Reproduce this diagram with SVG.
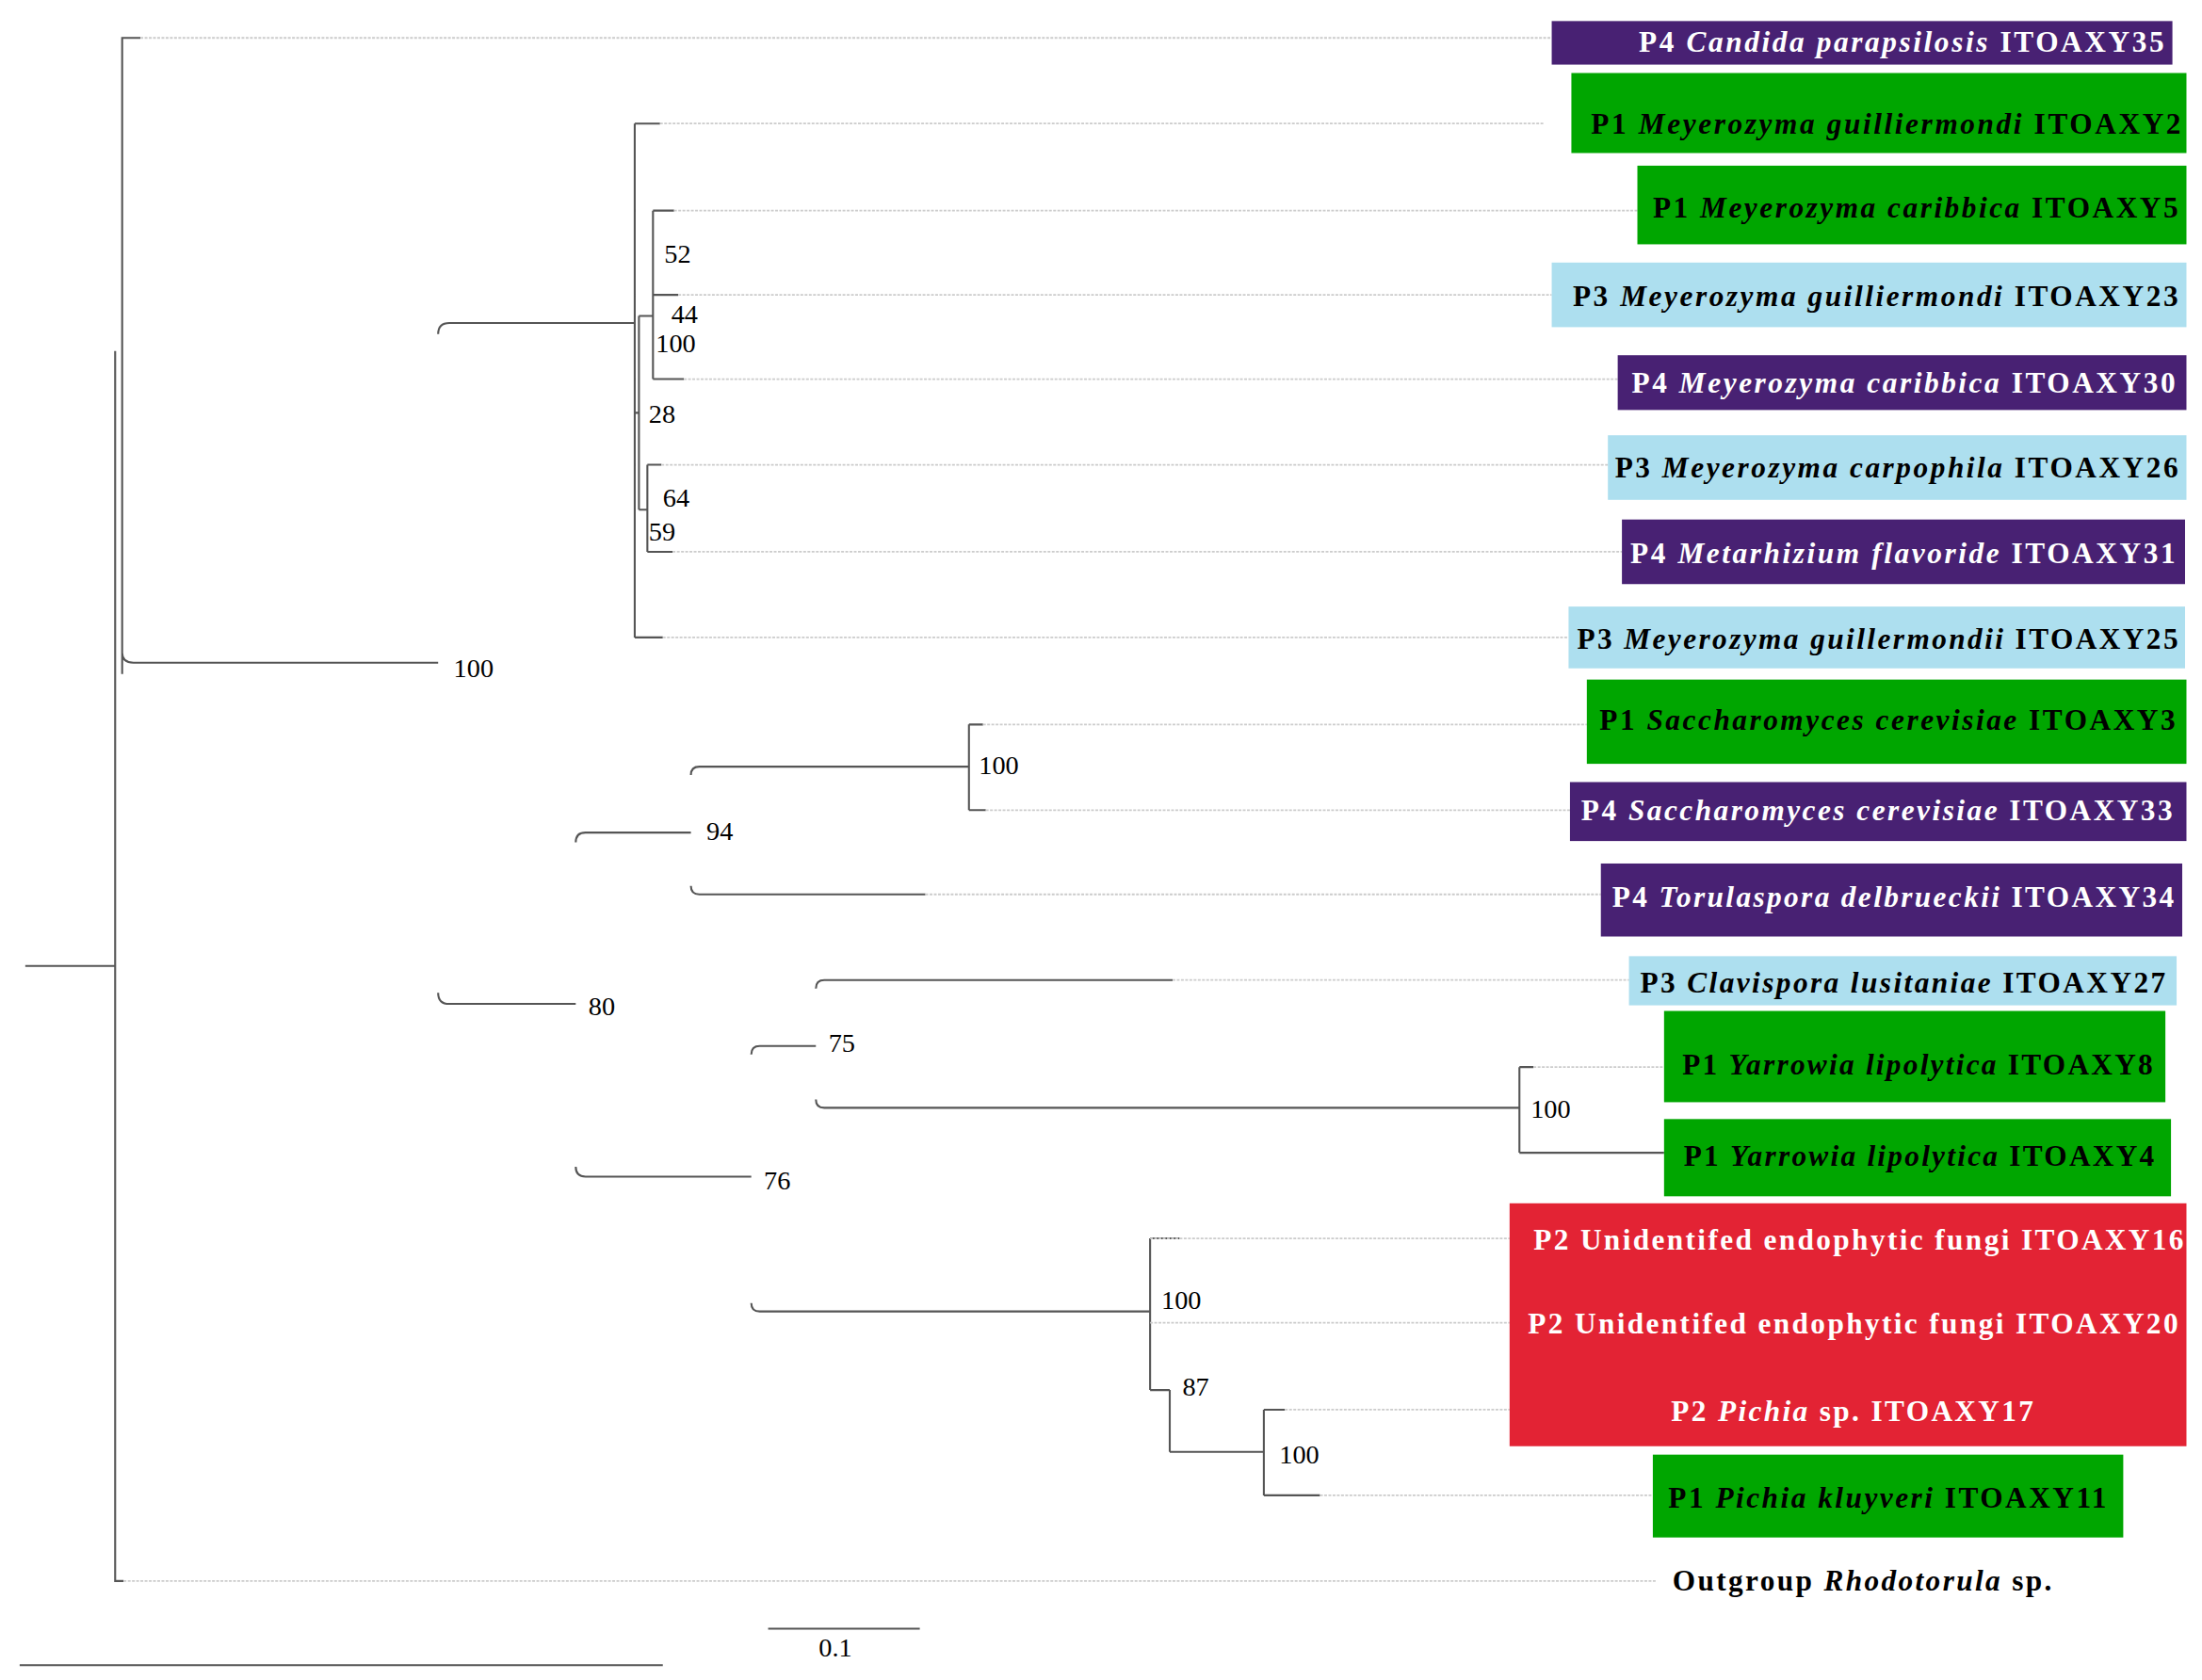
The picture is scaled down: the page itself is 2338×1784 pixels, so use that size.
<svg xmlns="http://www.w3.org/2000/svg" width="2338" height="1784" viewBox="0 0 2338 1784">
<style>
.b{fill:none;stroke:#555;stroke-width:1.4}
.d{fill:none;stroke:#ccc;stroke-width:1.2;stroke-dasharray:2 1}
.t{font-family:"Liberation Serif",serif;font-weight:bold;font-size:21px}
.w{fill:#fff}.k{fill:#000}
.n{font-family:"Liberation Serif",serif;font-size:19px;fill:#000}
.pu{fill:#482173}.gr{fill:#00A600}.lb{fill:#ADDFEF}.rd{fill:#E32334}
</style>
<rect width="2338" height="1784" fill="#fff"/>
<g transform="scale(1.491)">
<g id="connectors">
<path class="b" d="M18 688H82M82 250V1126H88M87 480V27H100M87 465Q87 472 95 472H312"/>
<path class="b" d="M312 238Q312 230 320 230H452M312 707Q312 715 320 715H410"/>
<path class="b" d="M452 88V454M452 88H470M452 454H472M452 294H455M455 225V363M455 225H465M465 150V270M465 150H480M465 210H483M465 270H487M455 363H461M461 331V393M461 331H471M461 393H479"/>
<path class="b" d="M410 600Q410 593 417 593H492M410 831Q410 838 417 838H535"/>
<path class="b" d="M492 552Q492 546 498 546H690M492 631Q492 637 498 637H659M690 516V577M690 516H700M690 577H702"/>
<path class="b" d="M535 751Q535 745 541 745H581M535 928Q535 934 541 934H819M581 704Q581 698 587 698H835M581 783Q581 789 587 789H1082M1082 760V821M1082 760H1092M1082 821H1185"/>
<path class="b" d="M819 882V990M819 882H840M819 990H833M833 990V1034M833 1034H900M900 1004V1065M900 1004H915M900 1065H940"/>
<path class="d" d="M100 27H1105M470 88H1100M480 150H1166M483 210H1105M487 270H1152M471 331H1145M479 393H1155M472 454H1117M700 516H1130M702 577H1118M659 637H1140M835 698H1160M1092 760H1185M819 882H1075M819 942H1075M915 1004H1075M940 1065H1177M88 1126H1180"/>
<path class="b" d="M547 1160H655M14 1186H472"/>
</g>
<g id="bootstrap">
<text class="n" x="473" y="187">52</text>
<text class="n" x="478" y="230">44</text>
<text class="n" x="467" y="251">100</text>
<text class="n" x="462" y="301">28</text>
<text class="n" x="472" y="361">64</text>
<text class="n" x="462" y="385">59</text>
<text class="n" x="323" y="482">100</text>
<text class="n" x="697" y="551">100</text>
<text class="n" x="503" y="598">94</text>
<text class="n" x="419" y="723">80</text>
<text class="n" x="590" y="749">75</text>
<text class="n" x="1090" y="796">100</text>
<text class="n" x="544" y="847">76</text>
<text class="n" x="827" y="932">100</text>
<text class="n" x="842" y="994">87</text>
<text class="n" x="911" y="1042">100</text>
<text class="n" x="583" y="1180">0.1</text>
</g>
<g id="leaf1"><rect class="pu" x="1105" y="15" width="442" height="31"/><text class="t w" x="1167" y="37" textLength="374">P4 <tspan font-style="italic">Candida parapsilosis</tspan> ITOAXY35</text></g>
<g id="leaf2"><rect class="gr" x="1119" y="52" width="438" height="57"/><text class="t k" x="1133" y="95" textLength="420">P1 <tspan font-style="italic">Meyerozyma guilliermondi</tspan> ITOAXY2</text></g>
<g id="leaf3"><rect class="gr" x="1166" y="118" width="391" height="56"/><text class="t k" x="1177" y="155" textLength="374">P1 <tspan font-style="italic">Meyerozyma caribbica</tspan> ITOAXY5</text></g>
<g id="leaf4"><rect class="lb" x="1105" y="187" width="452" height="46"/><text class="t k" x="1120" y="218" textLength="431">P3 <tspan font-style="italic">Meyerozyma guilliermondi</tspan> ITOAXY23</text></g>
<g id="leaf5"><rect class="pu" x="1152" y="253" width="405" height="39"/><text class="t w" x="1162" y="280" textLength="387">P4 <tspan font-style="italic">Meyerozyma caribbica</tspan> ITOAXY30</text></g>
<g id="leaf6"><rect class="lb" x="1145" y="310" width="412" height="46"/><text class="t k" x="1150" y="340" textLength="401">P3 <tspan font-style="italic">Meyerozyma carpophila</tspan> ITOAXY26</text></g>
<g id="leaf7"><rect class="pu" x="1155" y="370" width="401" height="46"/><text class="t w" x="1161" y="401" textLength="388">P4 <tspan font-style="italic">Metarhizium flavoride</tspan> ITOAXY31</text></g>
<g id="leaf8"><rect class="lb" x="1117" y="432" width="439" height="44"/><text class="t k" x="1123" y="462" textLength="428">P3 <tspan font-style="italic">Meyerozyma guillermondii</tspan> ITOAXY25</text></g>
<g id="leaf9"><rect class="gr" x="1130" y="484" width="427" height="60"/><text class="t k" x="1139" y="520" textLength="410">P1 <tspan font-style="italic">Saccharomyces cerevisiae</tspan> ITOAXY3</text></g>
<g id="leaf10"><rect class="pu" x="1118" y="557" width="439" height="42"/><text class="t w" x="1126" y="584" textLength="421">P4 <tspan font-style="italic">Saccharomyces cerevisiae</tspan> ITOAXY33</text></g>
<g id="leaf11"><rect class="pu" x="1140" y="615" width="414" height="52"/><text class="t w" x="1148" y="646" textLength="400">P4 <tspan font-style="italic">Torulaspora delbrueckii</tspan> ITOAXY34</text></g>
<g id="leaf12"><rect class="lb" x="1160" y="681" width="390" height="35"/><text class="t k" x="1168" y="707" textLength="374">P3 <tspan font-style="italic">Clavispora lusitaniae</tspan> ITOAXY27</text></g>
<g id="leaf13"><rect class="gr" x="1185" y="720" width="357" height="65"/><text class="t k" x="1198" y="765" textLength="335">P1 <tspan font-style="italic">Yarrowia lipolytica</tspan> ITOAXY8</text></g>
<g id="leaf14"><rect class="gr" x="1185" y="797" width="361" height="55"/><text class="t k" x="1199" y="830" textLength="335">P1 <tspan font-style="italic">Yarrowia lipolytica</tspan> ITOAXY4</text></g>
<g id="leaf15-17"><rect class="rd" x="1075" y="857" width="482" height="173"/>
<text class="t w" x="1092" y="890" textLength="463">P2 Unidentifed endophytic fungi ITOAXY16</text>
<text class="t w" x="1088" y="950" textLength="463">P2 Unidentifed endophytic fungi ITOAXY20</text>
<text class="t w" x="1190" y="1012" textLength="258">P2 <tspan font-style="italic">Pichia</tspan> sp. ITOAXY17</text></g>
<g id="leaf18"><rect class="gr" x="1177" y="1036" width="335" height="59"/><text class="t k" x="1188" y="1074" textLength="312">P1 <tspan font-style="italic">Pichia kluyveri</tspan> ITOAXY11</text></g>
<g id="leaf19"><text class="t k" x="1191" y="1133" textLength="270">Outgroup <tspan font-style="italic">Rhodotorula</tspan> sp.</text></g>
</g>
</svg>
